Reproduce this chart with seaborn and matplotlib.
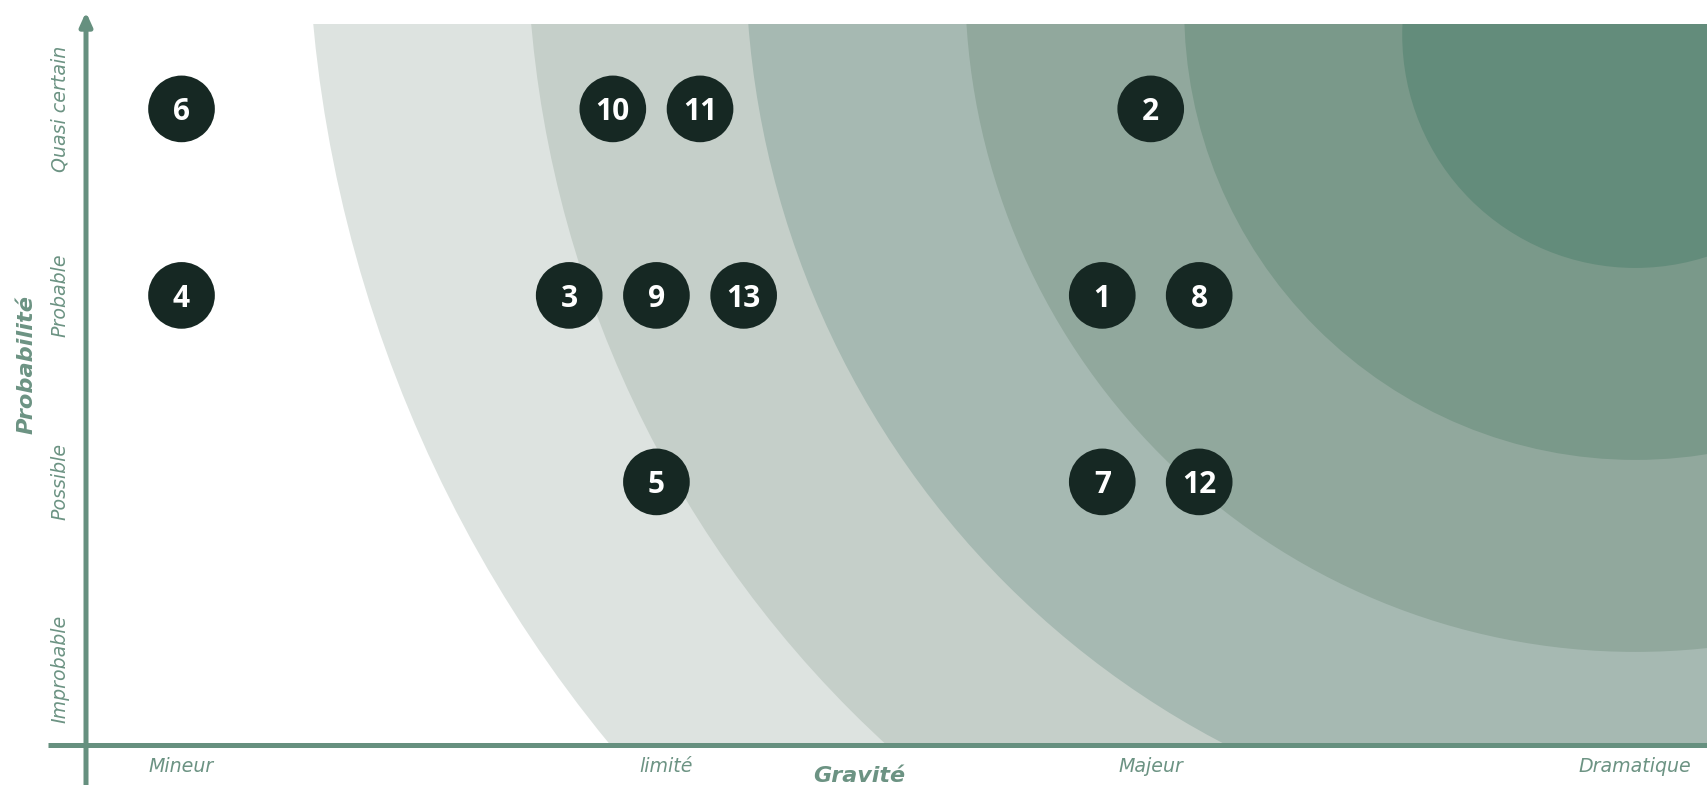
import numpy as np
import pandas as pd
import matplotlib
matplotlib.use("Agg")
import matplotlib.pyplot as plt
from matplotlib.patches import Ellipse
import seaborn as sns

# ---------------- data ----------------
risk_ids = [1, 2, 3, 4, 5, 6, 7, 8, 9, 10, 11, 12, 13]
gravite = [1.90, 2.00, 0.80, 0.00, 0.98, 0.00, 1.90, 2.10, 0.98, 0.89, 1.07, 2.10, 1.16]
probabilite = [2, 3, 2, 2, 1, 3, 1, 2, 2, 3, 3, 1, 2]

gravite_labels = ["Mineur", "limité", "Majeur", "Dramatique"]
proba_labels = ["Improbable", "Possible", "Probable", "Quasi certain"]

# risk zones (concentric bands around the "Dramatique / Quasi certain" corner), outer -> inner
zone_radius = [2.740, 2.287, 1.836, 1.383, 0.931, 0.481]      # in gravité units
zone_center_y = [4.115, 3.971, 3.826, 3.682, 3.537, 3.397]    # in probabilité units
zone_center_x = 3.0
zone_colors = ["#DDE3E0", "#C5CFC9", "#A6B9B2", "#91A89D", "#7A998A", "#638C7B"]

# ---------------- style ----------------
sns.set_theme(style="white")
plt.rcParams["font.family"] = ["DejaVu Sans"]

AXIS_C = "#66907F"
LABEL_C = "#6C9383"
DOT_C = "#162823"

W, H = 1707, 785
fig = plt.figure(figsize=(W / 100, H / 100), dpi=100)
fig.patch.set_facecolor("white")

ax_left, ax_right, ax_top, ax_bottom = 86, 1707, 24, 745
ax = fig.add_axes([ax_left / W, (H - ax_bottom) / H,
                   (ax_right - ax_left) / W, (ax_bottom - ax_top) / H])
ax.set_facecolor("white")
ax.set_xlim(-0.1971, 3.1479)
ax.set_ylim(-0.4107, 3.4552)

# pixel-per-unit ratio so the zones are round on screen
bbox = ax.get_window_extent()
px_per_x = bbox.width / (ax.get_xlim()[1] - ax.get_xlim()[0])
px_per_y = bbox.height / (ax.get_ylim()[1] - ax.get_ylim()[0])
ratio = px_per_x / px_per_y

for r, cy, c in zip(zone_radius, zone_center_y, zone_colors):
    e = Ellipse((zone_center_x, cy), width=2 * r, height=2 * r * ratio,
                facecolor=c, edgecolor="none", zorder=1)
    ax.add_patch(e)

# points
df = pd.DataFrame({"id": risk_ids, "gravite": gravite, "probabilite": probabilite})
sns.scatterplot(data=df, x="gravite", y="probabilite", s=2304, color=DOT_C,
                edgecolor="none", linewidth=0, ax=ax, zorder=5, legend=False)
for _, row in df.iterrows():
    ax.text(row["gravite"], row["probabilite"], str(int(row["id"])),
            ha="center", va="center_baseline", color="white",
            fontsize=21.5, fontweight="bold", zorder=6,
            family=["Open Sans", "DejaVu Sans"])

# axes decorations
for s in ax.spines.values():
    s.set_visible(False)
ax.plot([-38 / (ax_right - ax_left), 1], [0, 0], transform=ax.transAxes,
        color=AXIS_C, lw=3.6, solid_capstyle="butt", clip_on=False, zorder=7)
ax.annotate("", xy=(0, (ax_bottom - 12) / (ax_bottom - ax_top)),
            xytext=(0, (ax_bottom - H) / (ax_bottom - ax_top)),
            xycoords="axes fraction", textcoords="axes fraction",
            arrowprops=dict(arrowstyle="-|>,head_length=0.4,head_width=0.18",
                            color=AXIS_C, lw=3.6, shrinkA=0, shrinkB=0,
                            mutation_scale=20),
            zorder=7, annotation_clip=False)

ax.set_xticks(range(len(gravite_labels)))
ax.set_xticklabels(gravite_labels, fontstyle="italic", color=LABEL_C, fontsize=13.7)
ax.set_yticks(range(len(proba_labels)))
ax.set_yticklabels(proba_labels, fontstyle="italic", color=LABEL_C, fontsize=13.7,
                   rotation=90, va="center")
ax.tick_params(axis="x", length=0, pad=9)
ax.tick_params(axis="y", length=0, pad=12)
ax.set_xlabel("")
ax.set_ylabel("")

fig.text(859 / W, (H - 782) / H, "Gravité", ha="center", va="baseline",
         fontsize=16, fontweight="bold", fontstyle="italic", color=LABEL_C)
fig.text(27 / W, (H - 365) / H, "Probabilité", ha="center", va="center",
         rotation=90, fontsize=16.2, fontweight="bold", fontstyle="italic", color=LABEL_C)

fig.savefig("out.png", dpi=100, facecolor="white")
